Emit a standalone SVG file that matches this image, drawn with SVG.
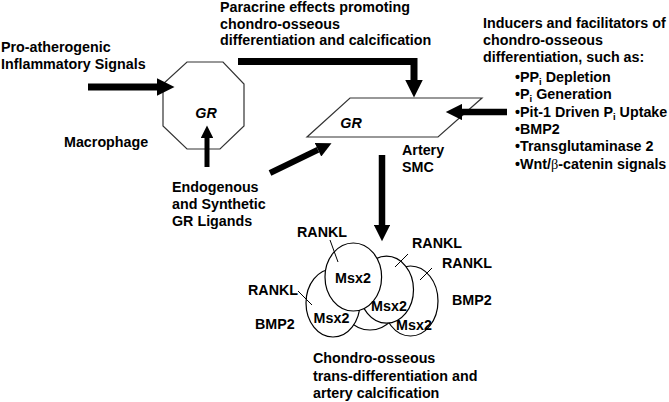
<svg xmlns="http://www.w3.org/2000/svg" width="669" height="402" viewBox="0 0 669 402">
<style>
.t{font-family:"Liberation Sans",Arial,sans-serif;font-weight:bold;font-size:14.3px;fill:#000}
.gr{font-style:italic}
.shape{fill:#fff;stroke:#333;stroke-width:1.2}
.cell{fill:#fff;stroke:#000;stroke-width:1.2}
.arr{fill:none;stroke:#000;stroke-linejoin:miter}
.ptr{stroke:#000;stroke-width:1}
.sub{font-size:9.5px}
.greek{font-family:"Liberation Serif","DejaVu Serif",serif;font-weight:normal}
</style>
<defs>
<marker id="ah" viewBox="0 0 10 10" refX="0" refY="5" markerWidth="2.6" markerHeight="2.5" orient="auto" markerUnits="strokeWidth">
<path d="M0,0 L10,5 L0,10 z" fill="#000"/>
</marker>
</defs>

<g id="signals">
<text class="t" x="1" y="52">Pro-atherogenic</text>
<text class="t" x="1" y="68.5">Inflammatory Signals</text>
</g>

<g id="paracrine">
<text class="t" x="220" y="12">Paracrine effects promoting</text>
<text class="t" x="220" y="28.5">chondro-osseous</text>
<text class="t" x="220" y="45">differentiation and calcification</text>
</g>

<g id="inducers">
<text class="t" x="483" y="28">Inducers and facilitators of</text>
<text class="t" x="483" y="45">chondro-osseous</text>
<text class="t" x="483" y="62">differentiation, such as:</text>
<text class="t" x="515" y="82">•PP<tspan class="sub" dy="3">i</tspan><tspan dy="-3"> Depletion</tspan></text>
<text class="t" x="515" y="99.3">•P<tspan class="sub" dy="3">i</tspan><tspan dy="-3"> Generation</tspan></text>
<text class="t" x="515" y="116.6">•Pit-1 Driven P<tspan class="sub" dy="3">i</tspan><tspan dy="-3"> Uptake</tspan></text>
<text class="t" x="515" y="134">•BMP2</text>
<text class="t" x="515" y="151.3">•Transglutaminase 2</text>
<text class="t" x="515" y="168.6">•Wnt/<tspan class="greek">β</tspan>-catenin signals</text>
</g>

<g id="macrophage">
<polygon class="shape" points="187,62 223,62 244,84 244,126 220,149 187,149 163,126 163,84"/>
<text class="t gr" x="206" y="118" text-anchor="middle">GR</text>
<text class="t" x="64" y="147">Macrophage</text>
</g>

<g id="smc">
<polygon class="shape" points="350,98 482,98 438,137 307,137"/>
<text class="t gr" x="351" y="128" text-anchor="middle">GR</text>
<text class="t" x="402" y="155">Artery</text>
<text class="t" x="402" y="172">SMC</text>
</g>

<g id="ligands">
<text class="t" x="172" y="192">Endogenous</text>
<text class="t" x="172" y="209">and Synthetic</text>
<text class="t" x="172" y="226">GR Ligands</text>
</g>

<g id="cells">
<ellipse class="cell" cx="370" cy="297" rx="30" ry="33"/>
<ellipse class="cell" cx="410.5" cy="301" rx="27.5" ry="35"/>
<ellipse class="cell" cx="333" cy="303" rx="27" ry="34"/>
<ellipse class="cell" cx="386.5" cy="289.7" rx="27" ry="33.5"/>
<ellipse class="cell" cx="353.3" cy="277" rx="28.3" ry="34"/>
<line class="ptr" x1="330" y1="240" x2="338" y2="262"/>
<line class="ptr" x1="408" y1="254" x2="395" y2="267"/>
<line class="ptr" x1="432" y1="268" x2="420" y2="280"/>
<line class="ptr" x1="298" y1="291" x2="312" y2="305"/>
<text class="t" x="353" y="283" text-anchor="middle">Msx2</text>
<text class="t" x="389" y="311.3" text-anchor="middle">Msx2</text>
<text class="t" x="331.5" y="323" text-anchor="middle">Msx2</text>
<text class="t" x="414" y="329.7" text-anchor="middle">Msx2</text>
<text class="t" x="297" y="237">RANKL</text>
<text class="t" x="412" y="248">RANKL</text>
<text class="t" x="442" y="268">RANKL</text>
<text class="t" x="248" y="295">RANKL</text>
<text class="t" x="452" y="305">BMP2</text>
<text class="t" x="255" y="329">BMP2</text>
</g>

<g id="outcome">
<text class="t" x="313" y="363">Chondro-osseous</text>
<text class="t" x="313" y="380.5">trans-differentiation and</text>
<text class="t" x="313" y="398">artery calcification</text>
</g>

<g id="connectors">
<path class="arr" stroke-width="7" d="M88,87 H157" marker-end="url(#ah)"/>
<path class="arr" stroke-width="7" d="M238,61.5 H414 V80" marker-end="url(#ah)"/>
<path class="arr" stroke-width="6.5" d="M507,112 H462" marker-end="url(#ah)"/>
<path class="arr" stroke-width="5" d="M207,167 V138" marker-end="url(#ah)"/>
<path class="arr" stroke-width="6" d="M270,173 L318,149.8" marker-end="url(#ah)"/>
<path class="arr" stroke-width="6.5" d="M382,155 V225" marker-end="url(#ah)"/>
</g>
</svg>
